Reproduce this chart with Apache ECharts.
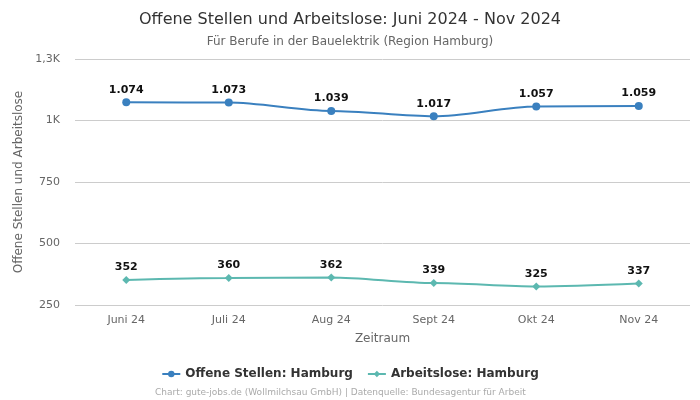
<!DOCTYPE html>
<html><head><meta charset="utf-8">
<script src="https://cdn.jsdelivr.net/npm/echarts@6/dist/echarts.min.js"></script>
<style>html,body{margin:0;padding:0;background:#fff}#c{width:700px;height:400px}</style>
</head><body><div id="c"></div>
<script>
const categories = ["Juni 24","Juli 24","Aug 24","Sept 24","Okt 24","Nov 24"];
const offeneStellen = [1074,1073,1039,1017,1057,1059];
const arbeitslose = [352,360,362,339,325,337];
const font = "DejaVu Sans";
function fmtNum(v){ return String(v).replace(/\B(?=(\d{3})+(?!\d))/g,"."); }
function fmtAxis(v){
  if (v >= 1000) { let k = Math.round(v/100)/10; return String(k).replace(".",",") + "K"; }
  return String(v);
}
const chart = echarts.init(document.getElementById('c'), null, {renderer:'canvas'});
chart.setOption({
  animation:false,
  textStyle:{fontFamily:font},
  title:[
    {text:"Offene Stellen und Arbeitslose: Juni 2024 - Nov 2024", left:"center", top:7,
     textStyle:{fontFamily:font,fontSize:16,fontWeight:"normal",color:"#333"}},
    {text:"Für Berufe in der Bauelektrik (Region Hamburg)", left:"center", top:31,
     textStyle:{fontFamily:font,fontSize:12,fontWeight:"normal",color:"#666"}},
    {text:"Chart: gute-jobs.de (Wollmilchsau GmbH) | Datenquelle: Bundesagentur für Arbeit", left:150, top:383,
     textStyle:{fontFamily:font,fontSize:9,fontWeight:"normal",color:"#aaa"}}
  ],
  legend:{top:363, left:"center", itemGap:14, itemWidth:18, itemHeight:8,
    textStyle:{fontFamily:font,fontSize:12,fontWeight:"bold",color:"#333"},
    data:["Offene Stellen: Hamburg","Arbeitslose: Hamburg"]},
  grid:{left:75,right:10,top:59,bottom:95},
  xAxis:{type:"category", data:categories, boundaryGap:true,
    name:"Zeitraum", nameLocation:"middle", nameGap:28,
    nameTextStyle:{fontFamily:font,fontSize:12,color:"#666"},
    axisLine:{show:false}, axisTick:{show:false},
    axisLabel:{fontFamily:font,fontSize:11,color:"#666",margin:10}},
  yAxis:{type:"value", min:250, max:1250, interval:250,
    name:"Offene Stellen und Arbeitslose", nameLocation:"middle", nameGap:47,
    nameTextStyle:{fontFamily:font,fontSize:12,color:"#666"},
    axisLabel:{fontFamily:font,fontSize:11,color:"#666",margin:15,formatter:fmtAxis},
    splitLine:{lineStyle:{color:"#ccc"}}},
  series:[
    {name:"Offene Stellen: Hamburg", type:"line", data:offeneStellen, smooth:0.3, smoothMonotone:"x",
     symbol:"circle", symbolSize:8, itemStyle:{color:"#3a80bf"}, lineStyle:{width:2,color:"#3a80bf"},
     label:{show:true, position:"top", distance:3, fontFamily:font, fontSize:11, fontWeight:"bold", color:"#111", formatter:p=>fmtNum(p.value)}},
    {name:"Arbeitslose: Hamburg", type:"line", data:arbeitslose, smooth:0.3, smoothMonotone:"x",
     symbol:"diamond", symbolSize:8, itemStyle:{color:"#5cb8b0"}, lineStyle:{width:2,color:"#5cb8b0"},
     label:{show:true, position:"top", distance:3, fontFamily:font, fontSize:11, fontWeight:"bold", color:"#111", formatter:p=>fmtNum(p.value)}}
  ]
});
</script></body></html>
